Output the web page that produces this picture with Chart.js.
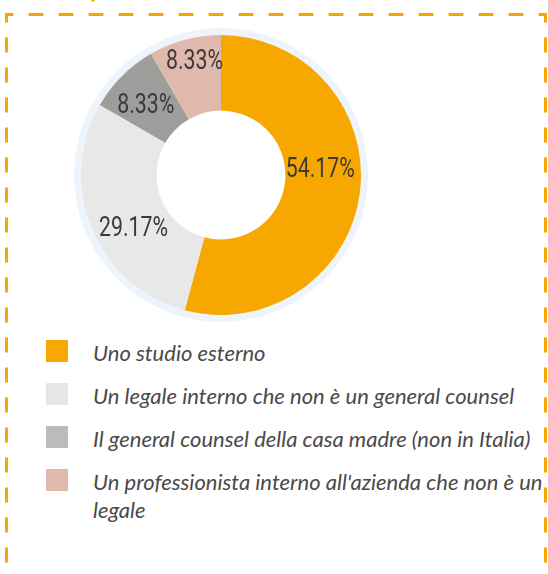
<!DOCTYPE html>
<html lang="it">
<head>
<meta charset="utf-8">
<title>Chi gestisce le questioni legali</title>
<script src="https://cdn.jsdelivr.net/npm/chart.js@4/dist/chart.umd.min.js"></script>
<style>
  html, body {
    margin: 0;
    padding: 0;
    width: 548px;
    height: 574px;
    overflow: hidden;
    background: #ffffff;
  }
  #frame {
    position: absolute;
    left: 0;
    top: 0;
    width: 548px;
    height: 574px;
    z-index: 5;
    pointer-events: none;
  }
  #donut-wrap {
    position: absolute;
    left: 71px;
    top: 25px;
    width: 300px;
    height: 300px;
  }
  #legend {
    position: absolute;
    left: 46px;
    top: 339px;
    margin: 0;
    padding: 0;
    list-style: none;
  }
  #legend li {
    display: flex;
    align-items: flex-start;
    margin-bottom: 15px;
  }
  #legend .swatch {
    flex: 0 0 22px;
    width: 22px;
    height: 22px;
    margin-top: 1px;
  }
  #legend .text {
    width: 470px;
    margin-left: 25px;
    font-family: Lato, "Open Sans", sans-serif;
    font-style: italic;
    font-size: 22px;
    line-height: 28px;
    color: #4a4a4a;
  }
</style>
</head>
<body>
<svg id="frame" width="548" height="574" viewBox="0 0 548 574">
  <path d="M93 0 V1.5" stroke="#F6A800" stroke-width="3" fill="none"/>
  <path d="M6.5 574 V14.5 H545.5 V574" stroke="#F6A800" stroke-width="3" fill="none"
        stroke-dasharray="15 15" stroke-dashoffset="18.5"/>
</svg>
<div id="donut-wrap"><canvas id="donut"></canvas></div>
<ul id="legend"></ul>
<script>
// Risposte (percentuale dei rispondenti)
const categories = [
  "Uno studio esterno",
  "Un legale interno che non è un general counsel",
  "Il general counsel della casa madre (non in Italia)",
  "Un professionista interno all'azienda che non è un legale"
];
const shares = [54.17, 29.17, 8.33, 8.33];

// Colori
const sliceColors = ["#F6A800", "#E8E8E8", "#9D9D9B", "#DFB9AB"];
const legendColors = ["#F6A800", "#E6E6E6", "#BBBBBB", "#DFB9AB"];
const ringColor = "#EEF4FB";
const labelColor = "#3a3a3a";

// Anello chiaro attorno alla ciambella
const outerRing = {
  id: "outerRing",
  beforeDatasetsDraw(chart, args, opts) {
    const arc = chart.getDatasetMeta(0).data[0];
    if (!arc) return;
    const { x, y, outerRadius } = arc.getProps(["x", "y", "outerRadius"], true);
    const ctx = chart.ctx;
    ctx.save();
    ctx.beginPath();
    ctx.arc(x, y, outerRadius + opts.width / 2, 0, Math.PI * 2);
    ctx.strokeStyle = opts.color;
    ctx.lineWidth = opts.width;
    ctx.stroke();
    ctx.restore();
  }
};

// Etichette percentuali dentro gli spicchi
const sliceLabels = {
  id: "sliceLabels",
  afterDatasetsDraw(chart, args, opts) {
    const meta = chart.getDatasetMeta(0);
    const values = chart.data.datasets[0].data;
    const ctx = chart.ctx;
    ctx.save();
    ctx.font = opts.font;
    ctx.fillStyle = opts.color;
    ctx.textAlign = "center";
    ctx.textBaseline = "middle";
    meta.data.forEach((arc, i) => {
      const p = arc.getProps(["x", "y", "startAngle", "endAngle", "innerRadius", "outerRadius"], true);
      const mid = (p.startAngle + p.endAngle) / 2;
      const r = (p.innerRadius + p.outerRadius) / 2;
      const nudge = opts.nudge[i] || [0, 0];
      const lx = p.x + Math.cos(mid) * r + nudge[0];
      const ly = p.y + Math.sin(mid) * r + nudge[1];
      ctx.save();
      ctx.translate(lx, ly);
      ctx.scale(opts.squeeze, 1);
      ctx.fillText(values[i].toFixed(2) + "%", 0, 0);
      ctx.restore();
    });
    ctx.restore();
  }
};

const chart = new Chart(document.getElementById("donut"), {
  type: "doughnut",
  data: {
    labels: categories,
    datasets: [{
      data: shares,
      backgroundColor: sliceColors,
      borderWidth: 0,
      hoverOffset: 0
    }]
  },
  options: {
    responsive: true,
    maintainAspectRatio: false,
    animation: false,
    events: [],
    cutout: "46%",
    layout: { padding: 10 },
    plugins: {
      legend: { display: false },
      tooltip: { enabled: false },
      outerRing: { color: ringColor, width: 7 },
      sliceLabels: {
        font: "28px Roboto, 'DejaVu Sans', sans-serif",
        color: labelColor,
        squeeze: 0.76,
        nudge: [[-2, -18], [7, 15], [-3, 3], [0, -14]]
      }
    }
  },
  plugins: [outerRing, sliceLabels]
});

// Legenda HTML generata dalle stesse categorie
const legendEl = document.getElementById("legend");
categories.forEach((name, i) => {
  const li = document.createElement("li");
  const sw = document.createElement("span");
  sw.className = "swatch";
  sw.style.background = legendColors[i];
  const tx = document.createElement("span");
  tx.className = "text";
  tx.textContent = name;
  li.appendChild(sw);
  li.appendChild(tx);
  legendEl.appendChild(li);
});
</script>
</body>
</html>
